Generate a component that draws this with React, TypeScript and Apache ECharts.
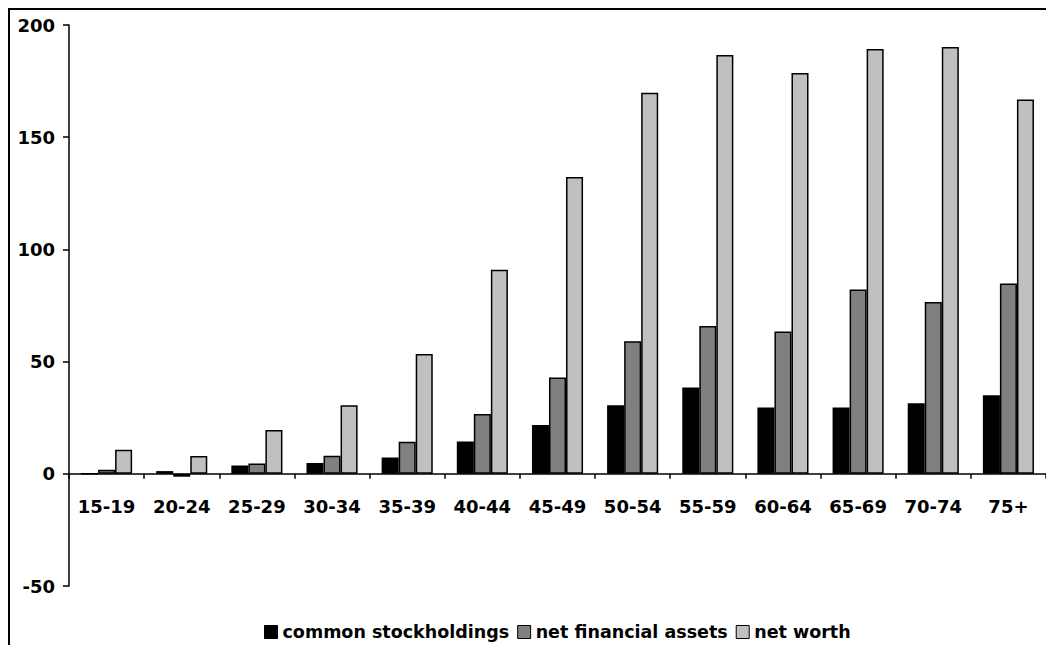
import React, { useEffect, useRef } from "react";
import * as echarts from "echarts";

// Age groups of household heads
const ageGroups = [
  "15-19", "20-24", "25-29", "30-34", "35-39", "40-44", "45-49",
  "50-54", "55-59", "60-64", "65-69", "70-74", "75+",
];

const commonStockholdings = [0, 1.2, 3.7, 4.8, 7.3, 14.4, 21.7, 30.5, 38.5, 29.6, 29.6, 31.4, 35.0];
const netFinancialAssets = [1.8, -1.3, 4.6, 8.0, 14.3, 26.6, 42.9, 59.1, 65.9, 63.4, 82.1, 76.6, 84.8];
const netWorth = [10.7, 7.9, 19.5, 30.5, 53.4, 90.9, 132.3, 169.8, 186.6, 178.6, 189.3, 190.2, 166.8];

const seriesNames = ["common stockholdings", "net financial assets", "net worth"];
const seriesColors = ["#000000", "#808080", "#c0c0c0"];

const FONT = "DejaVu Sans";

export default function App() {
  const ref = useRef<HTMLDivElement>(null);

  useEffect(() => {
    if (!ref.current) return;
    const chart = echarts.init(ref.current, undefined, { renderer: "svg" });
    const values = [commonStockholdings, netFinancialAssets, netWorth];
    const labelFont = { color: "#000", fontFamily: FONT, fontWeight: "bold", fontSize: 18 };

    chart.setOption({
      animation: false,
      backgroundColor: "#ffffff",
      textStyle: { fontFamily: FONT },
      graphic: [
        {
          type: "rect",
          shape: { x: 9, y: 9, width: 1200, height: 900 },
          style: { fill: "none", stroke: "#000", lineWidth: 2 },
          silent: true,
        },
      ],
      grid: { left: 69, right: -2, top: 25, bottom: 59, containLabel: false },
      legend: {
        top: 623,
        left: 264,
        padding: 0,
        itemWidth: 13,
        itemHeight: 13,
        itemGap: 8,
        icon: "rect",
        itemStyle: { borderColor: "#000", borderWidth: 1 },
        textStyle: { ...labelFont, fontSize: 17.5, lineHeight: 18, padding: [0, 0, 0, 0] },
        data: seriesNames,
      },
      xAxis: [
        {
          // axis line and ticks sitting on the zero value
          type: "category",
          data: ageGroups,
          axisLine: { onZero: true, lineStyle: { color: "#000", width: 1.5 } },
          axisTick: { show: true, length: 5, lineStyle: { color: "#000", width: 1.5 } },
          axisLabel: { show: false },
        },
        {
          // category labels placed just under the zero line
          type: "category",
          data: ageGroups,
          position: "bottom",
          offset: -113,
          axisLine: { show: false },
          axisTick: { show: false },
          axisLabel: { margin: 24, ...labelFont },
        },
      ],
      yAxis: {
        type: "value",
        min: -50,
        max: 200,
        interval: 50,
        splitLine: { show: false },
        axisLine: { show: true, lineStyle: { color: "#000", width: 1.5 } },
        axisTick: { show: true, length: 6, lineStyle: { color: "#000", width: 1.5 } },
        axisLabel: { margin: 14, ...labelFont },
      },
      series: seriesNames.map((name, i) => ({
        name,
        type: "bar",
        xAxisIndex: 0,
        data: values[i],
        barGap: "0%",
        barCategoryGap: "32%",
        itemStyle: { color: seriesColors[i], borderColor: "#000", borderWidth: 1.5 },
      })),
    });

    return () => chart.dispose();
  }, []);

  return (
    <div
      ref={ref}
      style={{ position: "fixed", left: 0, top: 0, width: 1046, height: 645, background: "#fff" }}
    />
  );
}
